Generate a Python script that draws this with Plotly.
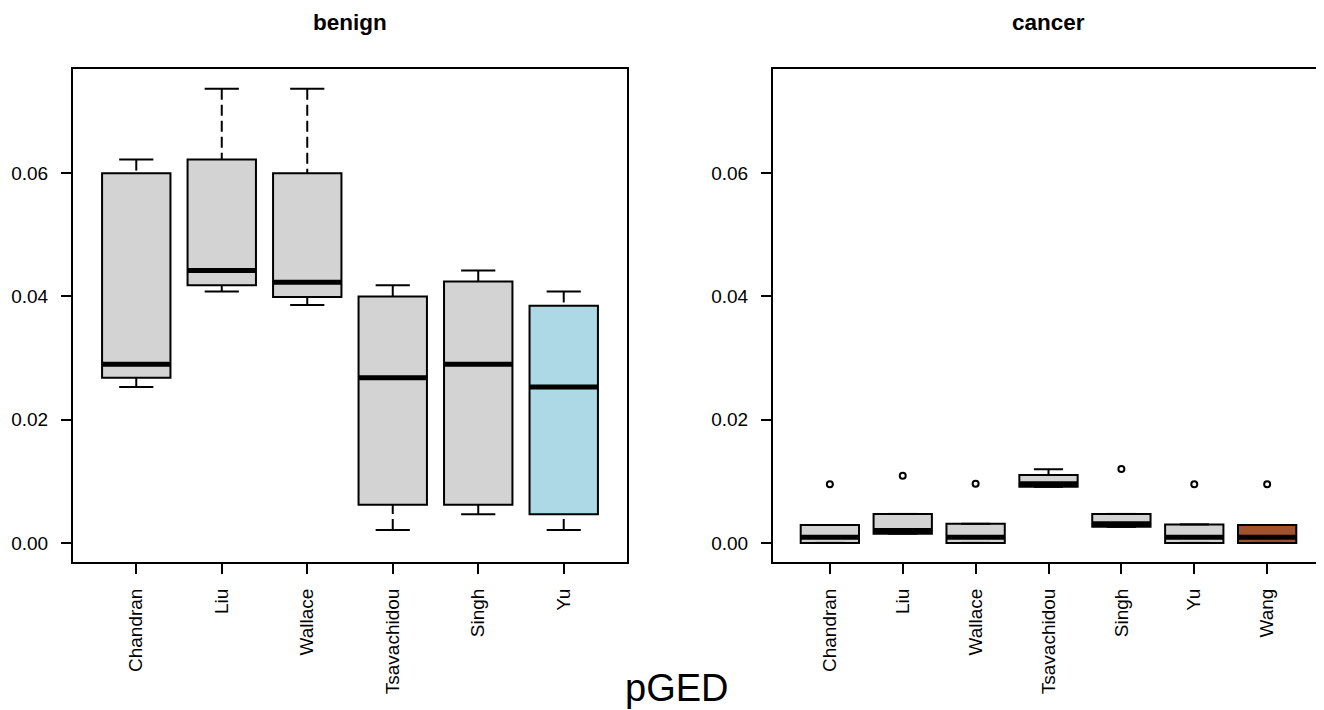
import plotly.graph_objects as go

# ---------------- data ----------------
benign_studies = ["Chandran", "Liu", "Wallace", "Tsavachidou", "Singh", "Yu"]
benign_lower = [0.0253, 0.0408, 0.0386, 0.0021, 0.00465, 0.0021]
benign_q1 = [0.0268, 0.0418, 0.0399, 0.0062, 0.0062, 0.00465]
benign_median = [0.0290, 0.0442, 0.0423, 0.0268, 0.0290, 0.0253]
benign_q3 = [0.0600, 0.0622, 0.0600, 0.0400, 0.0424, 0.0385]
benign_upper = [0.0622, 0.0737, 0.0737, 0.0418, 0.0442, 0.0408]
benign_colors = ["#D3D3D3", "#D3D3D3", "#D3D3D3", "#D3D3D3", "#D3D3D3", "#ADD8E6"]

cancer_studies = ["Chandran", "Liu", "Wallace", "Tsavachidou", "Singh", "Yu", "Wang"]
cancer_lower = [0.0, 0.0015, 0.0, 0.0091, 0.0026, 0.0, 0.0]
cancer_q1 = [0.0, 0.0015, 0.0, 0.0091, 0.0026, 0.0, 0.0]
cancer_median = [0.0009, 0.0020, 0.0009, 0.0096, 0.0031, 0.0009, 0.0009]
cancer_q3 = [0.0029, 0.0047, 0.0031, 0.0110, 0.0047, 0.0030, 0.0029]
cancer_upper = [0.0029, 0.0047, 0.0031, 0.01195, 0.0047, 0.0030, 0.0029]
cancer_outliers = [[0.0095], [0.0109], [0.0096], [], [0.0120], [0.0095], [0.0095]]
cancer_colors = ["#D3D3D3"] * 6 + ["#A0522D"]

y_ticks = [0.00, 0.02, 0.04, 0.06]
y_tick_labels = ["0.00", "0.02", "0.04", "0.06"]

# ---------------- figure ----------------
fig = go.Figure()
FONT = "Liberation Sans, Arial, Helvetica, sans-serif"
BOXW = 0.8
CAPW = 0.4


def add_panel(studies, lower, q1, med, q3, upper, colors, outliers, xa, ya):
    for i, name in enumerate(studies):
        p = i + 1
        fig.add_trace(go.Box(
            x=[p], q1=[q1[i]], median=[med[i]], q3=[q3[i]],
            lowerfence=[q1[i]], upperfence=[q3[i]],
            width=BOXW, whiskerwidth=0, boxpoints=False,
            fillcolor=colors[i], line=dict(color="black", width=2),
            name=name, showlegend=False, xaxis=xa, yaxis=ya, hoverinfo="skip",
        ))
        # whiskers (dashed), drawn from caps toward the box
        fig.add_trace(go.Scatter(
            x=[p, p, None, p, p], y=[upper[i], q3[i], None, lower[i], q1[i]],
            mode="lines", line=dict(color="black", width=2, dash="11px,5px"),
            showlegend=False, xaxis=xa, yaxis=ya, hoverinfo="skip",
        ))
        # caps
        fig.add_trace(go.Scatter(
            x=[p - CAPW / 2, p + CAPW / 2, None, p - CAPW / 2, p + CAPW / 2],
            y=[upper[i], upper[i], None, lower[i], lower[i]],
            mode="lines", line=dict(color="black", width=2),
            showlegend=False, xaxis=xa, yaxis=ya, hoverinfo="skip",
        ))
        # thick median
        fig.add_trace(go.Scatter(
            x=[p - BOXW / 2, p + BOXW / 2], y=[med[i], med[i]],
            mode="lines", line=dict(color="black", width=5),
            showlegend=False, xaxis=xa, yaxis=ya, hoverinfo="skip",
        ))
        if outliers and outliers[i]:
            fig.add_trace(go.Scatter(
                x=[p] * len(outliers[i]), y=outliers[i], mode="markers",
                marker=dict(symbol="circle-open", size=6, color="black",
                            line=dict(width=2, color="black")),
                showlegend=False, xaxis=xa, yaxis=ya, hoverinfo="skip",
            ))


add_panel(benign_studies, benign_lower, benign_q1, benign_median, benign_q3,
          benign_upper, benign_colors, None, "x", "y")
add_panel(cancer_studies, cancer_lower, cancer_q1, cancer_median, cancer_q3,
          cancer_upper, cancer_colors, cancer_outliers, "x2", "y2")

# page body has an 8px margin; lay out in window pixels minus that offset
OFF = 8
W, H = 1324 - OFF, 710 - OFF
ML, MT = 73 - OFF, 69 - OFF
MR = 0
MB = H - (562 - OFF)
PW = W - ML - MR
PH = H - MT - MB

yrange = [-0.0031, 0.0769]

axis_common = dict(
    showline=True, mirror=True, linecolor="black", linewidth=2,
    ticks="outside", ticklen=10, tickwidth=2, tickcolor="black",
    showgrid=False, zeroline=False, automargin=False,
    tickfont=dict(family=FONT, size=19, color="black"),
)

left_dom = [0, (627 - 73) / PW]
right_dom = [(773 - 73) / PW, 1.0]

fig.update_layout(
    width=W, height=H,
    margin=dict(l=ML, r=MR, t=MT, b=MB),
    paper_bgcolor="white", plot_bgcolor="white",
    showlegend=False,
    xaxis=dict(domain=left_dom, range=[0.26, 6.74],
               tickvals=list(range(1, len(benign_studies) + 1)),
               ticktext=benign_studies, tickangle=-90,
               ticklabelstandoff=7, anchor="y", **axis_common),
    yaxis=dict(domain=[0, 1], range=yrange, tickvals=y_ticks,
               ticktext=y_tick_labels, ticklabelstandoff=9, anchor="x",
               **axis_common),
    xaxis2=dict(domain=right_dom, range=[0.22, 7.78],
                tickvals=list(range(1, len(cancer_studies) + 1)),
                ticktext=cancer_studies, tickangle=-90,
                ticklabelstandoff=7, anchor="y2", **axis_common),
    yaxis2=dict(domain=[0, 1], range=yrange, tickvals=y_ticks,
                ticktext=y_tick_labels, ticklabelstandoff=9, anchor="x2",
                **axis_common),
)

title_y = 1 + (69 - 22) / PH
fig.add_annotation(text="<b>benign</b>", x=sum(left_dom) / 2, y=title_y,
                   xref="paper", yref="paper", showarrow=False,
                   xanchor="center", yanchor="middle",
                   font=dict(family=FONT, size=22.5, color="black"))
fig.add_annotation(text="<b>cancer</b>", x=sum(right_dom) / 2, y=title_y,
                   xref="paper", yref="paper", showarrow=False,
                   xanchor="center", yanchor="middle",
                   font=dict(family=FONT, size=22.5, color="black"))
fig.add_annotation(text="pGED", x=(676 - 73) / PW, y=-(688 - 562) / PH,
                   xref="paper", yref="paper", showarrow=False,
                   xanchor="center", yanchor="middle",
                   font=dict(family=FONT, size=38, color="black"))

fig.write_html("out.html")
